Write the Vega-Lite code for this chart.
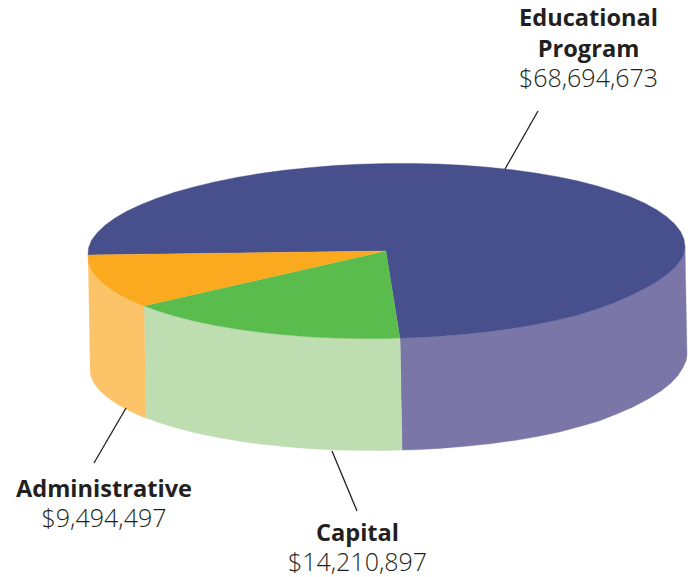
{"$schema":"https://vega.github.io/schema/vega-lite/v6.json","width":691,"height":577,"padding":0,"autosize":"none","background":"white","config":{"view":{"stroke":null}},
"datasets":{"shapes":[
{"part":"Educational Program wall","i":1,"u":14,"v":-87},{"part":"Educational Program wall","i":2,"u":26.1,"v":-86.8},{"part":"Educational Program wall","i":3,"u":51.9,"v":-85.4},{"part":"Educational Program wall","i":4,"u":77.4,"v":-83.3},{"part":"Educational Program wall","i":5,"u":102.3,"v":-80.7},{"part":"Educational Program wall","i":6,"u":126.4,"v":-77.4},{"part":"Educational Program wall","i":7,"u":149.5,"v":-73.6},{"part":"Educational Program wall","i":8,"u":171.5,"v":-69.1},{"part":"Educational Program wall","i":9,"u":192.2,"v":-64.1},{"part":"Educational Program wall","i":10,"u":211.4,"v":-58},{"part":"Educational Program wall","i":11,"u":229,"v":-51.5},{"part":"Educational Program wall","i":12,"u":244.9,"v":-44.5},{"part":"Educational Program wall","i":13,"u":258.9,"v":-37.5},{"part":"Educational Program wall","i":14,"u":271,"v":-30.5},{"part":"Educational Program wall","i":15,"u":281,"v":-23.5},{"part":"Educational Program wall","i":16,"u":288.8,"v":-16.5},{"part":"Educational Program wall","i":17,"u":294.5,"v":-9.5},{"part":"Educational Program wall","i":18,"u":298,"v":-2.5},{"part":"Educational Program wall","i":19,"u":299,"v":4.5},{"part":"Educational Program wall","i":20,"u":301,"v":-104},{"part":"Educational Program wall","i":21,"u":300,"v":-110},{"part":"Educational Program wall","i":22,"u":297,"v":-116.5},{"part":"Educational Program wall","i":23,"u":292,"v":-124.5},{"part":"Educational Program wall","i":24,"u":285,"v":-132},{"part":"Educational Program wall","i":25,"u":275,"v":-140},{"part":"Educational Program wall","i":26,"u":263,"v":-147.5},{"part":"Educational Program wall","i":27,"u":247,"v":-156},{"part":"Educational Program wall","i":28,"u":232,"v":-162.5},{"part":"Educational Program wall","i":29,"u":213,"v":-170},{"part":"Educational Program wall","i":30,"u":194,"v":-175.5},{"part":"Educational Program wall","i":31,"u":173.5,"v":-181},{"part":"Educational Program wall","i":32,"u":151.5,"v":-185.5},{"part":"Educational Program wall","i":33,"u":128.4,"v":-189.5},{"part":"Educational Program wall","i":34,"u":104.3,"v":-192.7},{"part":"Educational Program wall","i":35,"u":79.4,"v":-195.3},{"part":"Educational Program wall","i":36,"u":53.9,"v":-197.4},{"part":"Educational Program wall","i":37,"u":28,"v":-198.8},{"part":"Educational Program wall","i":38,"u":16,"v":-199},
{"part":"Capital wall","i":1,"u":-242,"v":-55},{"part":"Capital wall","i":2,"u":-229,"v":-59.6},{"part":"Capital wall","i":3,"u":-211.4,"v":-65.1},{"part":"Capital wall","i":4,"u":-192.2,"v":-69.9},{"part":"Capital wall","i":5,"u":-171.5,"v":-74.3},{"part":"Capital wall","i":6,"u":-149.5,"v":-78},{"part":"Capital wall","i":7,"u":-126.4,"v":-81.2},{"part":"Capital wall","i":8,"u":-102.3,"v":-83.7},{"part":"Capital wall","i":9,"u":-77.4,"v":-85.7},{"part":"Capital wall","i":10,"u":-51.9,"v":-87},{"part":"Capital wall","i":11,"u":-26.1,"v":-87.6},{"part":"Capital wall","i":12,"u":0,"v":-87.5},{"part":"Capital wall","i":13,"u":14,"v":-87},{"part":"Capital wall","i":14,"u":16,"v":-199},{"part":"Capital wall","i":15,"u":2,"v":-199.5},{"part":"Capital wall","i":16,"u":-24.1,"v":-199.6},{"part":"Capital wall","i":17,"u":-49.9,"v":-199},{"part":"Capital wall","i":18,"u":-75.4,"v":-197.7},{"part":"Capital wall","i":19,"u":-100.3,"v":-195.7},{"part":"Capital wall","i":20,"u":-124.4,"v":-193.2},{"part":"Capital wall","i":21,"u":-147.5,"v":-190},{"part":"Capital wall","i":22,"u":-169.5,"v":-186.3},{"part":"Capital wall","i":23,"u":-190.2,"v":-181.9},{"part":"Capital wall","i":24,"u":-209.4,"v":-177.1},{"part":"Capital wall","i":25,"u":-227,"v":-171.6},{"part":"Capital wall","i":26,"u":-240,"v":-167},
{"part":"Administrative wall","i":1,"u":-298,"v":-4},{"part":"Administrative wall","i":2,"u":-297.5,"v":-12.1},{"part":"Administrative wall","i":3,"u":-294.5,"v":-19.6},{"part":"Administrative wall","i":4,"u":-288.8,"v":-26.9},{"part":"Administrative wall","i":5,"u":-281,"v":-34.1},{"part":"Administrative wall","i":6,"u":-271,"v":-41.1},{"part":"Administrative wall","i":7,"u":-258.9,"v":-47.7},{"part":"Administrative wall","i":8,"u":-244.9,"v":-53.9},{"part":"Administrative wall","i":9,"u":-242,"v":-55},{"part":"Administrative wall","i":10,"u":-240,"v":-167},{"part":"Administrative wall","i":11,"u":-243,"v":-165.9},{"part":"Administrative wall","i":12,"u":-256.9,"v":-159.7},{"part":"Administrative wall","i":13,"u":-269,"v":-153},{"part":"Administrative wall","i":14,"u":-279,"v":-146},{"part":"Administrative wall","i":15,"u":-286.8,"v":-138.9},{"part":"Administrative wall","i":16,"u":-292.5,"v":-131.6},{"part":"Administrative wall","i":17,"u":-295.5,"v":-124},{"part":"Administrative wall","i":18,"u":-296,"v":-116},
{"part":"Educational Program top","i":0,"u":0,"v":0},{"part":"Educational Program top","i":1,"u":14,"v":-87},{"part":"Educational Program top","i":2,"u":26.1,"v":-86.8},{"part":"Educational Program top","i":3,"u":51.9,"v":-85.4},{"part":"Educational Program top","i":4,"u":77.4,"v":-83.3},{"part":"Educational Program top","i":5,"u":102.3,"v":-80.7},{"part":"Educational Program top","i":6,"u":126.4,"v":-77.4},{"part":"Educational Program top","i":7,"u":149.5,"v":-73.6},{"part":"Educational Program top","i":8,"u":171.5,"v":-69.1},{"part":"Educational Program top","i":9,"u":192.2,"v":-64.1},{"part":"Educational Program top","i":10,"u":211.4,"v":-58},{"part":"Educational Program top","i":11,"u":229,"v":-51.5},{"part":"Educational Program top","i":12,"u":244.9,"v":-44.5},{"part":"Educational Program top","i":13,"u":258.9,"v":-37.5},{"part":"Educational Program top","i":14,"u":271,"v":-30.5},{"part":"Educational Program top","i":15,"u":281,"v":-23.5},{"part":"Educational Program top","i":16,"u":288.8,"v":-16.5},{"part":"Educational Program top","i":17,"u":294.5,"v":-9.5},{"part":"Educational Program top","i":18,"u":298,"v":-2.5},{"part":"Educational Program top","i":19,"u":299,"v":4.5},{"part":"Educational Program top","i":20,"u":297.9,"v":12.1},{"part":"Educational Program top","i":21,"u":294.5,"v":19.6},{"part":"Educational Program top","i":22,"u":288.8,"v":26.9},{"part":"Educational Program top","i":23,"u":281,"v":34.1},{"part":"Educational Program top","i":24,"u":271,"v":41.1},{"part":"Educational Program top","i":25,"u":258.9,"v":47.7},{"part":"Educational Program top","i":26,"u":244.9,"v":53.9},{"part":"Educational Program top","i":27,"u":229,"v":59.6},{"part":"Educational Program top","i":28,"u":211.4,"v":65.1},{"part":"Educational Program top","i":29,"u":192.2,"v":69.9},{"part":"Educational Program top","i":30,"u":171.5,"v":74.3},{"part":"Educational Program top","i":31,"u":149.5,"v":78},{"part":"Educational Program top","i":32,"u":126.4,"v":81.2},{"part":"Educational Program top","i":33,"u":102.3,"v":83.7},{"part":"Educational Program top","i":34,"u":77.4,"v":85.7},{"part":"Educational Program top","i":35,"u":51.9,"v":87},{"part":"Educational Program top","i":36,"u":26.1,"v":87.6},{"part":"Educational Program top","i":37,"u":0,"v":87.5},{"part":"Educational Program top","i":38,"u":-26.1,"v":86.8},{"part":"Educational Program top","i":39,"u":-51.9,"v":85.4},{"part":"Educational Program top","i":40,"u":-77.4,"v":83.3},{"part":"Educational Program top","i":41,"u":-102.3,"v":80.7},{"part":"Educational Program top","i":42,"u":-126.4,"v":77.4},{"part":"Educational Program top","i":43,"u":-149.5,"v":73.6},{"part":"Educational Program top","i":44,"u":-171.5,"v":69.1},{"part":"Educational Program top","i":45,"u":-192.2,"v":64.1},{"part":"Educational Program top","i":46,"u":-211.4,"v":58.7},{"part":"Educational Program top","i":47,"u":-229,"v":52.8},{"part":"Educational Program top","i":48,"u":-244.9,"v":46.5},{"part":"Educational Program top","i":49,"u":-258.9,"v":39.9},{"part":"Educational Program top","i":50,"u":-271,"v":32.9},{"part":"Educational Program top","i":51,"u":-281,"v":25.7},{"part":"Educational Program top","i":52,"u":-288.8,"v":18.3},{"part":"Educational Program top","i":53,"u":-294.5,"v":10.8},{"part":"Educational Program top","i":54,"u":-297.5,"v":3.1},{"part":"Educational Program top","i":55,"u":-298,"v":-4},
{"part":"Capital top","i":0,"u":0,"v":0},{"part":"Capital top","i":1,"u":-242,"v":-55},{"part":"Capital top","i":2,"u":-229,"v":-59.6},{"part":"Capital top","i":3,"u":-211.4,"v":-65.1},{"part":"Capital top","i":4,"u":-192.2,"v":-69.9},{"part":"Capital top","i":5,"u":-171.5,"v":-74.3},{"part":"Capital top","i":6,"u":-149.5,"v":-78},{"part":"Capital top","i":7,"u":-126.4,"v":-81.2},{"part":"Capital top","i":8,"u":-102.3,"v":-83.7},{"part":"Capital top","i":9,"u":-77.4,"v":-85.7},{"part":"Capital top","i":10,"u":-51.9,"v":-87},{"part":"Capital top","i":11,"u":-26.1,"v":-87.6},{"part":"Capital top","i":12,"u":0,"v":-87.5},{"part":"Capital top","i":13,"u":14,"v":-87},
{"part":"Administrative top","i":0,"u":0,"v":0},{"part":"Administrative top","i":1,"u":-298,"v":-4},{"part":"Administrative top","i":2,"u":-297.5,"v":-12.1},{"part":"Administrative top","i":3,"u":-294.5,"v":-19.6},{"part":"Administrative top","i":4,"u":-288.8,"v":-26.9},{"part":"Administrative top","i":5,"u":-281,"v":-34.1},{"part":"Administrative top","i":6,"u":-271,"v":-41.1},{"part":"Administrative top","i":7,"u":-258.9,"v":-47.7},{"part":"Administrative top","i":8,"u":-244.9,"v":-53.9},{"part":"Administrative top","i":9,"u":-242,"v":-55}
],
"leaders":[
{"slice":"Educational Program","i":1,"u":152,"v":140},{"slice":"Educational Program","i":2,"u":119,"v":82},
{"slice":"Administrative","i":1,"u":-260,"v":-157},{"slice":"Administrative","i":2,"u":-292,"v":-212},
{"slice":"Capital","i":1,"u":-54,"v":-200},{"slice":"Capital","i":2,"u":-29,"v":-260}
],
"names":[
{"text":"Educational","u":202.5,"v":225},{"text":"Program","u":202.5,"v":194},{"text":"Administrative","u":-282,"v":-246},{"text":"Capital","u":-28.5,"v":-290}
],
"amounts":[
{"text":"$68,694,673","u":202.5,"v":164},{"text":"$9,494,497","u":-282,"v":-276},{"text":"$14,210,897","u":-28.5,"v":-320}
]},
"encoding":{
"x":{"field":"u","type":"quantitative","axis":null,"scale":{"domain":[-386,305],"nice":false,"zero":false}},
"y":{"field":"v","type":"quantitative","axis":null,"scale":{"domain":[-326,251],"nice":false,"zero":false}}
},
"layer":[
{"data":{"name":"shapes"},"mark":{"type":"line","strokeWidth":0.4,"clip":false},
"encoding":{"order":{"field":"i","type":"quantitative"},"detail":{"field":"part"},
"fill":{"field":"part","type":"nominal","legend":null,"scale":{"domain":["Educational Program wall","Capital wall","Administrative wall","Educational Program top","Capital top","Administrative top"],"range":["#7A76A8","#BEDDB0","#FDC368","#47508C","#5BBC4E","#FBA91F"]}},
"stroke":{"field":"part","type":"nominal","legend":null,"scale":{"domain":["Educational Program wall","Capital wall","Administrative wall","Educational Program top","Capital top","Administrative top"],"range":["#7A76A8","#BEDDB0","#FDC368","#47508C","#5BBC4E","#FBA91F"]}}}},
{"data":{"name":"leaders"},"mark":{"type":"line","color":"#231F20","strokeWidth":1.3},
"encoding":{"order":{"field":"i","type":"quantitative"},"detail":{"field":"slice"}}},
{"data":{"name":"names"},"mark":{"type":"text","font":"Open Sans","fontSize":23.6,"fontWeight":"bold","color":"#231F20","align":"center","baseline":"alphabetic"},"encoding":{"text":{"field":"text"}}},
{"data":{"name":"amounts"},"mark":{"type":"text","font":"Open Sans","fontSize":25,"fontWeight":300,"color":"#231F20","align":"center","baseline":"alphabetic"},"encoding":{"text":{"field":"text"}}}
]}
